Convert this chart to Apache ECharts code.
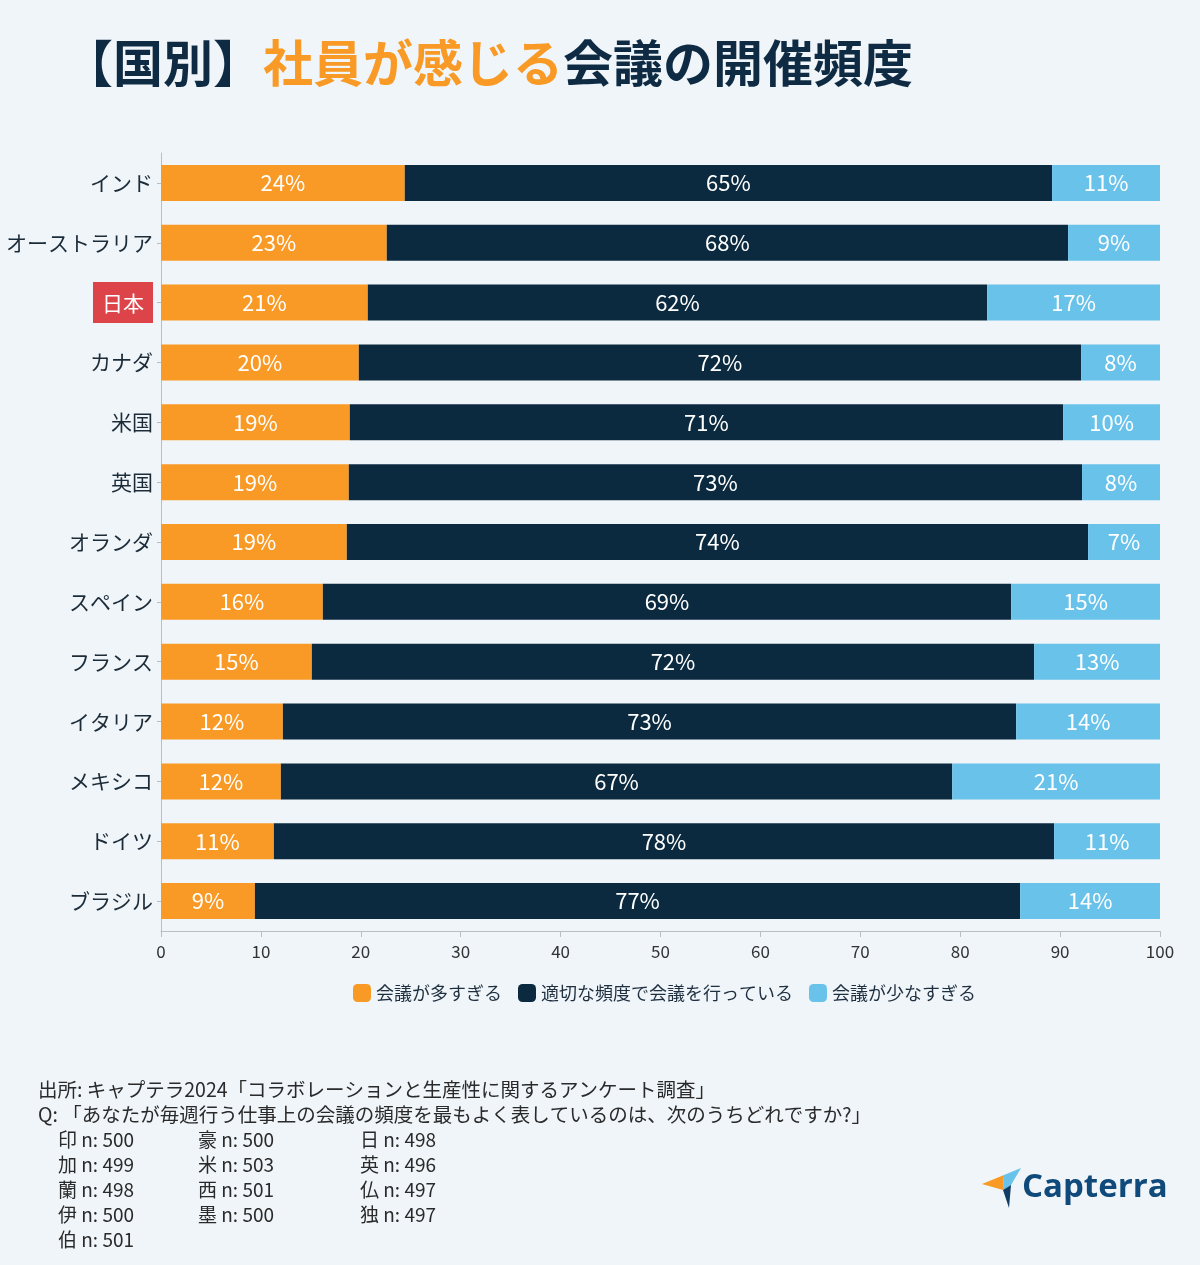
<!DOCTYPE html>
<html><head><meta charset="utf-8">
<script src="https://cdn.jsdelivr.net/npm/echarts@6/dist/echarts.min.js"></script>
<style>html,body{margin:0;padding:0;background:#eff5f9;}#c{width:1200px;height:1265px;}</style>
</head><body><div id="c"></div>
<script>
const countries = ['インド','オーストラリア','日本','カナダ','米国','英国','オランダ','スペイン','フランス','イタリア','メキシコ','ドイツ','ブラジル'];
const seriesNames = ['会議が多すぎる','適切な頻度で会議を行っている','会議が少なすぎる'];
const tooMany   = [24.4, 22.6, 20.7, 19.8, 18.9, 18.8, 18.6, 16.2, 15.1, 12.2, 12.0, 11.3, 9.4];
const justRight = [64.8, 68.2, 62.0, 72.3, 71.4, 73.4, 74.2, 68.9, 72.3, 73.4, 67.2, 78.1, 76.6];
const tooFew    = [10.8,  9.2, 17.3,  7.9,  9.7,  7.8,  7.2, 14.9, 12.6, 14.4, 20.8, 10.6, 14.0];
const xTicks = [0,10,20,30,40,50,60,70,80,90,100];
const highlight = '日本';
const sourceLines = ['出所: キャプテラ2024「コラボレーションと生産性に関するアンケート調査」','Q: 「あなたが毎週行う仕事上の会議の頻度を最もよく表しているのは、次のうちどれですか?」'];
const sampleCol1 = ['印 n: 500','加 n: 499','蘭 n: 498','伊 n: 500','伯 n: 501'];
const sampleCol2 = ['豪 n: 500','米 n: 503','西 n: 501','墨 n: 500'];
const sampleCol3 = ['日 n: 498','英 n: 496','仏 n: 497','独 n: 497'];

const colors = ['#f89a25','#0c2a3f','#69c2ea'];
const font = '"Noto Sans CJK JP","Noto Sans",sans-serif';
const chart = echarts.init(document.getElementById('c'));

const mkSeries = (name, data, i) => ({
  name, type:'bar', stack:'t', data, barWidth:36,
  itemStyle:{color:colors[i]},
  label:{show:true, position:'inside', color:'#ffffff', fontSize:22, fontFamily:font,
    formatter:p => Math.round(p.value)+'%'}
});

const footer = [];
sourceLines.forEach((t,i)=>footer.push({type:'text',left:38,top:1080+i*25,style:{text:t,fontSize:19.5,fill:'#2a2a2a',fontFamily:font}}));
[[sampleCol1,58],[sampleCol2,198],[sampleCol3,360]].forEach(([col,x])=>{
  col.forEach((t,i)=>footer.push({type:'text',left:x,top:1130+i*25,style:{text:t,fontSize:19,fill:'#2a2a2a',fontFamily:font}}));
});

chart.setOption({
  backgroundColor:'#eff5f9',
  animation:false,
  title:{
    text:'{a|【国別】}{b|社員が感じる}{a|会議の開催頻度}',
    left:58, top:33,
    textStyle:{rich:{
      a:{fontSize:50,fontWeight:'bold',color:'#0f2b44',fontFamily:font},
      b:{fontSize:50,fontWeight:'bold',color:'#f89a25',fontFamily:font}
    }}
  },
  legend:{
    data:seriesNames, left:348, top:979, icon:'roundRect', itemWidth:18, itemHeight:18, itemGap:16, itemTextGap:6,
    textStyle:{fontSize:18,color:'#1f2f3f',fontFamily:font}
  },
  grid:{left:161, right:40, top:153, bottom:334, outerBoundsMode:'none', containLabel:false},
  xAxis:{
    type:'value', min:0, max:100, interval:10,
    axisLine:{show:true,lineStyle:{color:'#b8bec4'}},
    axisTick:{show:true,length:6,lineStyle:{color:'#b8bec4'}},
    splitLine:{show:false},
    axisLabel:{fontSize:17,color:'#333',margin:12,fontFamily:font,
      formatter:v => xTicks.includes(v)? String(v):''}
  },
  yAxis:{
    type:'category', data:countries, inverse:true,
    axisLine:{show:true,lineStyle:{color:'#b8bec4'}},
    axisTick:{show:true,length:4,alignWithLabel:true,lineStyle:{color:'#b8bec4'}},
    axisLabel:{fontSize:21,color:'#1c2b38',margin:8,fontFamily:font,
      formatter:v => v===highlight ? '{h|'+v+'}' : v,
      rich:{h:{fontSize:21,color:'#ffffff',backgroundColor:'#dc4449',padding:[10,9,10,9],fontFamily:font}}}
  },
  series:[mkSeries(seriesNames[0],tooMany,0),mkSeries(seriesNames[1],justRight,1),mkSeries(seriesNames[2],tooFew,2)],
  graphic:footer.concat([
    {type:'polygon',shape:{points:[[982,1184],[1004,1175],[1003,1190]]},style:{fill:'#f89a25'}},
    {type:'polygon',shape:{points:[[1004,1175],[1021,1168],[1011,1185],[1003,1190]]},style:{fill:'#69c2ea'}},
    {type:'polygon',shape:{points:[[1003,1190],[1011,1185],[1009,1208]]},style:{fill:'#0f3d63'}},
    {type:'text',left:1022,top:1171,style:{text:'Capterra',fontSize:33,fontWeight:'bold',fill:'#0f4a7a',fontFamily:'"Open Sans",sans-serif'}}
  ])
});
</script></body></html>
